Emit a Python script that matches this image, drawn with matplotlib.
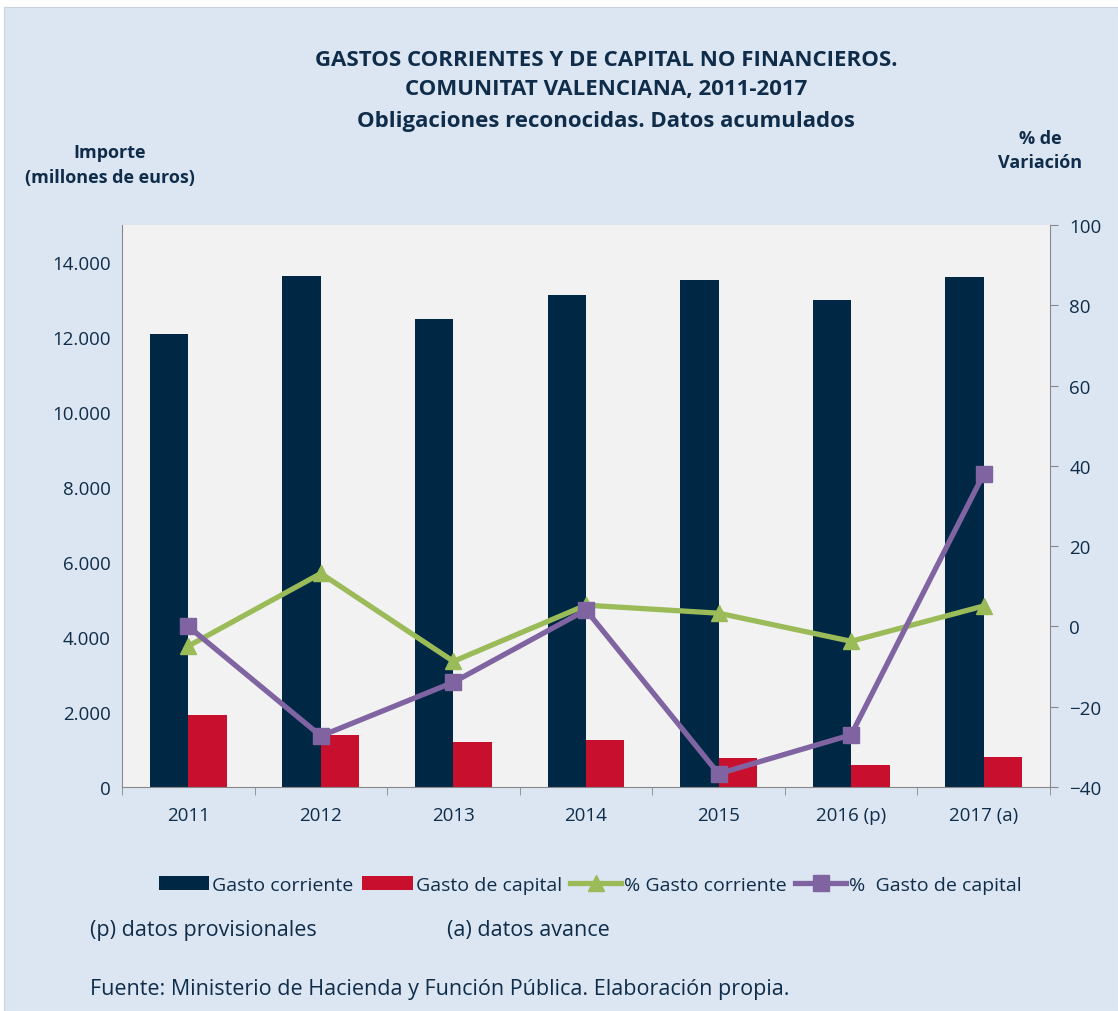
import matplotlib
matplotlib.use("Agg")
import matplotlib.pyplot as plt
import numpy as np
from matplotlib.patches import Rectangle
from matplotlib.ticker import FuncFormatter

years = ["2011", "2012", "2013", "2014", "2015", "2016 (p)", "2017 (a)"]
gasto_corriente = [12080, 13650, 12480, 13120, 13540, 13010, 13620]
gasto_capital = [1910, 1385, 1200, 1250, 775, 585, 795]
pct_corriente = [-4.9, 13.2, -8.7, 5.3, 3.3, -3.7, 5.1]
pct_capital = [0.0, -27.3, -13.9, 4.1, -36.7, -27.0, 38.0]

navy = "#002845"
red = "#c8102e"
green = "#9bbb59"
purple = "#8064a2"
txt = "#0f2d4a"
bg = "#dce6f2"

plt.rcParams['font.family'] = ['Open Sans', 'DejaVu Sans']

fig = plt.figure(figsize=(11.18, 10.12), dpi=100)
fig.patch.set_facecolor("white")
fig.patches.append(Rectangle((4/1118, 0), 1 - 4/1118, 1 - 8/1012, transform=fig.transFigure,
                             facecolor=bg, edgecolor="#c8d2de", lw=0.8, zorder=-10))

ax = fig.add_axes([122/1118, 1 - 788/1012, (1050-122)/1118, (788-226)/1012])
ax.set_facecolor("#f2f2f2")
x = np.arange(len(years))
w = 0.29
ax.bar(x - w/2, gasto_corriente, w, color=navy, label="Gasto corriente", zorder=2)
ax.bar(x + w/2, gasto_capital, w, color=red, label="Gasto de capital", zorder=2)
ax.set_xlim(-0.5, len(years) - 0.5)
ax.set_ylim(0, 15000)
ax.set_yticks(np.arange(0, 14001, 2000))
ax.yaxis.set_major_formatter(FuncFormatter(lambda v, p: f"{int(v):,}".replace(",", ".")))
ax.set_xticks(x)
ax.set_xticklabels(years)
ax.set_xticks(np.arange(-0.5, len(years), 1), minor=True)
ax.tick_params(axis='x', which='major', length=0, pad=14, labelsize=13.5, labelcolor=txt)
ax.tick_params(axis='x', which='minor', length=6, color="#888888", direction='out')
ax.tick_params(axis='y', length=0, labelsize=13.5, labelcolor=txt, pad=8)
for s in ["top", "right"]:
    ax.spines[s].set_visible(False)
ax.spines["left"].set_color("#888888")
ax.spines["bottom"].set_color("#888888")

ax2 = ax.twinx()
ax2.set_ylim(-40, 100)
ax2.set_yticks(np.arange(-40, 101, 20))
l1, = ax2.plot(x, pct_corriente, color=green, lw=3.8, marker="^", markersize=12,
               label="% Gasto corriente", zorder=3)
l2, = ax2.plot(x, pct_capital, color=purple, lw=3.8, marker="s", markersize=11,
               label="%  Gasto de capital", zorder=3)
ax2.tick_params(axis='y', length=6, color="#888888", direction='out', labelsize=13.5,
                labelcolor=txt, pad=8)
for s in ["top", "left", "bottom"]:
    ax2.spines[s].set_visible(False)
ax2.spines["right"].set_color("#888888")

title_kw = dict(ha="center", va="center", fontsize=16, fontweight="bold", color=txt)
fig.text(606/1118, 1 - 60/1012, "GASTOS CORRIENTES Y DE CAPITAL NO FINANCIEROS.", **title_kw)
fig.text(606/1118, 1 - 89/1012, "COMUNITAT VALENCIANA, 2011-2017", **title_kw)
fig.text(606/1118, 1 - 121/1012, "Obligaciones reconocidas. Datos acumulados", **title_kw)
fig.text(110/1118, 1 - 166/1012, "Importe\n(millones de euros)", ha="center", va="center",
         fontsize=13, fontweight="bold", color=txt, linespacing=1.5)
fig.text(1040/1118, 1 - 151/1012, "% de\nVariación", ha="center", va="center",
         fontsize=13, fontweight="bold", color=txt, linespacing=1.5)

handles = [ax.containers[0], ax.containers[1], l1, l2]
labels = ["Gasto corriente", "Gasto de capital", "% Gasto corriente", "%  Gasto de capital"]
leg = fig.legend(handles, labels, loc="center", bbox_to_anchor=(590/1118, 1 - 886/1012), ncol=4,
                 frameon=False, fontsize=14, handlelength=2.6, handleheight=0.7,
                 handletextpad=0.15, columnspacing=0.45, labelcolor=txt)

foot_kw = dict(ha="left", va="center", fontsize=15.5, color=txt)
fig.text(90/1118, 1 - 931/1012, "(p) datos provisionales", **foot_kw)
fig.text(447/1118, 1 - 931/1012, "(a) datos avance", **foot_kw)
fig.text(90/1118, 1 - 990/1012, "Fuente: Ministerio de Hacienda y Función Pública. Elaboración propia.",
         **foot_kw)

fig.savefig("out.png", dpi=100, facecolor=fig.get_facecolor())
